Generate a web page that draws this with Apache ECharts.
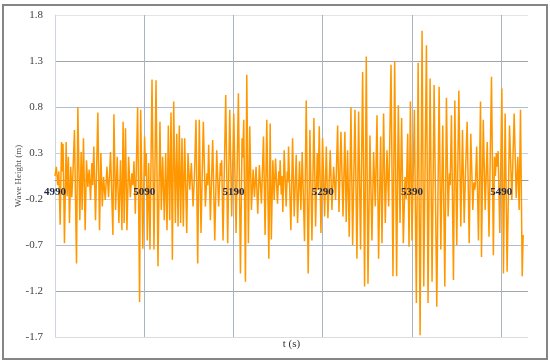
<!DOCTYPE html>
<html>
<head>
<meta charset="utf-8">
<script src="https://cdn.jsdelivr.net/npm/echarts@6/dist/echarts.min.js"></script>
<style>
  html, body { margin: 0; padding: 0; background: #fff; }
  #chart { width: 550px; height: 363px; }
</style>
</head>
<body>
<div id="chart"></div>
<script>
  // wave record, read at the turning points of the trace
  var times = [
    4990, 4991.5, 4993, 4994.3, 4995.8, 4997.3, 4998.3, 4999, 5000.6, 5002.5,
    5003.6, 5005, 5006.2, 5007.7, 5008.8, 5010, 5011.8, 5014.1, 5015.6, 5017.8,
    5019.3, 5020.4, 5021.9, 5023.8, 5025.3, 5026.8, 5028.3, 5029.8, 5031.3, 5032.3,
    5033.5, 5035.4, 5038, 5039.9, 5041.4, 5043, 5044.4, 5046.3, 5048.2, 5050,
    5052.2, 5054.9, 5056, 5057.9, 5059.7, 5061.6, 5063.4, 5065, 5066.3, 5067.5,
    5069, 5070.6, 5072.5, 5074.4, 5076.2, 5077.3, 5078.5, 5080, 5082.6, 5084.8,
    5086, 5088.4, 5090.4, 5091.5, 5092.3, 5093.4, 5095, 5096.4, 5098.7, 5100.9,
    5103.2, 5105.4, 5107.6, 5109.1, 5110.6, 5112.5, 5114, 5115.5, 5117, 5118.5,
    5120, 5121.5, 5123, 5124.9, 5126.4, 5127.9, 5129.3, 5130.8, 5132.3, 5133.8,
    5135.3, 5137.6, 5139, 5141, 5142.8, 5144.7, 5146.2, 5148, 5149.9, 5151.7,
    5153.6, 5156.2, 5158.5, 5160.3, 5161.2, 5162.2, 5164.1, 5166.7, 5169, 5171.2,
    5173.4, 5175.3, 5176.2, 5176.8, 5178.3, 5181.3, 5183.5, 5185.8, 5188, 5190.3,
    5192.9, 5195.5, 5197.8, 5199.6, 5200.4, 5201.5, 5203.4, 5204.9, 5206.7, 5208.2,
    5210.1, 5212, 5213.5, 5215.3, 5217.2, 5219, 5221.3, 5223.6, 5225.4, 5227.3,
    5229.6, 5231.1, 5232.4, 5234.1, 5235.6, 5237.1, 5239.3, 5240.8, 5241.5, 5242.3,
    5243.5, 5244.3, 5245.3, 5246.8, 5249, 5250.3, 5250.9, 5251.7, 5254.3, 5256.2,
    5258, 5260.3, 5261.8, 5264, 5265.5, 5267, 5269.6, 5271.5, 5273.7, 5275.6,
    5277.9, 5280.1, 5282, 5283.9, 5284.9, 5286.1, 5288, 5289.8, 5292.1, 5294,
    5295.8, 5298.4, 5300.3, 5302.2, 5304.4, 5306.7, 5308.2, 5310.4, 5312.7, 5314.8,
    5316.3, 5317.8, 5319.7, 5321.6, 5323.5, 5326.1, 5328.3, 5330.2, 5332.4, 5334.7,
    5336.9, 5338.8, 5340.7, 5342.9, 5345.1, 5347, 5348.9, 5350.8, 5352.6, 5354.9,
    5356.4, 5358.2, 5360.1, 5362, 5363.9, 5366.5, 5368.7, 5370.6, 5372.8, 5374.7,
    5376.6, 5378.4, 5380.3, 5382.2, 5383.5, 5385.2, 5386.7, 5388.2, 5390, 5392.7,
    5394.9, 5396.9, 5399.1, 5401.3, 5403.2, 5406.2, 5408, 5410.3, 5412.5, 5414.8,
    5417.8, 5420.4, 5422.3, 5424.5, 5426.8, 5428.6, 5430.5, 5432, 5432.8, 5434.2,
    5436.5, 5438, 5440.2, 5442.5, 5444.7, 5446.6, 5448.5, 5450, 5451.8, 5454.1,
    5455.9, 5458.2, 5459.3, 5460.2, 5461, 5462.5, 5464.5, 5466.8, 5467.9, 5469.9,
    5472, 5474.3, 5476.3, 5479.1, 5481.2, 5482.4, 5483.5, 5484.5, 5485.5, 5486.5,
    5488.4, 5490.7, 5492.5, 5494.4, 5496.6, 5499.3, 5501.9, 5504.5, 5506.8, 5508.6,
    5510.1, 5511.6, 5513.5, 5514.6
  ];
  var heights = [
    0.05, 0.15, -0.05, 0.10, -0.48, 0.42, 0.10, 0.40, -0.68, 0.42,
    -0.17, 0.26, -0.46, 0.15, -0.18, 0.05, 0.55, -0.90, 0.80, -0.43,
    0.31, -0.32, 0.46, -0.54, 0.22, -0.07, 0.12, -0.21, 0.19, -0.05,
    0.37, -0.43, 0.74, -0.54, 0.30, -0.28, 0.04, -0.21, 0.15, -0.18,
    0.31, -0.59, 0.72, -0.32, 0.26, -0.46, 0.22, -0.54, 0.64, -0.46,
    0.57, -0.54, 0.26, -0.18, 0.08, -0.05, 0.21, -0.36, 0.80, -1.32,
    0.77, -0.74, 0.48, 0.05, 0.30, -0.65, 0.19, -0.75, 1.10, -0.75,
    1.09, -0.93, 0.64, -0.32, 0.26, -0.43, 0.30, -0.54, 0.60, -0.43,
    0.74, -0.86, 0.86, -0.46, 0.51, -0.50, 0.60, -0.46, 0.46, -0.50,
    0.46, -0.57, 0.30, -0.10, 0.19, -0.28, 0.04, 0.66, -0.90, 0.66,
    -0.57, 0.64, -0.28, 0.08, -0.05, 0.39, -0.43, 0.44, -0.65, 0.33,
    -0.28, 0.19, 0.05, 0.22, -0.65, 0.93, -0.68, 0.77, -0.39, 0.73,
    -0.57, 0.95, -1.01, 0.46, 0.25, 0.66, -1.10, 1.15, -0.68, 0.59,
    -0.32, 0.12, -0.18, 0.15, -0.36, 0.17, -0.25, 0.48, -0.59, 0.66,
    -0.85, 0.62, -0.64, 0.22, -0.21, 0.24, -0.25, 0.10, -0.05, 0.22,
    -0.15, 0.05, -0.34, 0.33, -0.28, 0.10, -0.02, 0.37, -0.54, 0.46,
    -0.39, 0.28, -0.46, 0.21, -0.32, 0.31, -0.66, 0.87, -1.01, 0.55,
    -0.65, 0.68, -0.50, 0.30, -0.10, 0.59, -0.57, 0.46, -0.39, 0.37,
    -0.41, 0.33, -0.32, 0.15, -0.21, 0.60, -0.34, 0.53, -0.39, 0.53,
    -0.45, 0.33, -0.61, 0.80, -0.70, 0.77, -0.85, 0.75, -0.75, 1.18,
    -1.15, 1.35, -1.12, 0.49, -0.65, 0.31, -0.28, 0.71, -0.85, 0.48,
    -0.68, 0.73, -0.46, 0.33, -0.28, 1.26, -1.04, 1.30, -1.04, 0.82,
    -0.46, 0.68, -0.68, 0.04, -0.20, 0.51, -0.72, 0.86, -0.65, 0.77,
    -1.33, 1.28, -1.68, 1.63, -1.15, 1.47, -1.33, 1.11, -1.10, 1.04,
    -1.37, 1.02, -0.75, 0.60, -1.15, 0.90, -0.39, 0.08, -0.05, 0.71,
    -1.08, 0.87, -0.70, 0.98, -0.50, 0.55, -0.46, 0.10, 0.64, -0.68,
    0.51, -0.32, -0.02, -0.10, -0.05, 0.37, -0.65, 0.86, -0.83, 0.66,
    -0.32, 0.42, -0.61, 1.13, -0.81, 0.26, 0.05, 0.30, 0.15, 0.32,
    -0.57, 1.00, -1.01, 0.73, -0.99, 0.60, -0.21, 0.73, -0.19, 0.26,
    -0.32, 0.77, -1.04, -0.59
  ];
  var xTicks = [4990, 5090, 5190, 5290, 5390, 5490];
  var yTicks = [-1.7, -1.2, -0.7, -0.2, 0.3, 0.8, 1.3, 1.8];
  var xEnd = 5520;

  var chart = echarts.init(document.getElementById('chart'));
  var serif = '"Liberation Serif", "DejaVu Serif", serif';

  var seriesData = times.map(function (t, i) { return [t, heights[i]]; });
  var xSpan = xEnd - xTicks[0];
  var yMin = yTicks[0], yMax = yTicks[yTicks.length - 1];
  var ySpan = yMax - yMin;

  var gridTop = 15, gridBottom = 26;
  var plotH = 363 - gridTop - gridBottom;
  // lift the x axis from the bottom edge up to the zero line
  var zeroOffset = -plotH * (0 - yMin) / ySpan;

  var option = {
    animation: false,
    backgroundColor: '#fff',
    grid: { left: 55, right: 22, top: gridTop, bottom: gridBottom, containLabel: false, outerBoundsMode: 'none' },
    graphic: [{
      type: 'rect',
      shape: { x: 3, y: 5, width: 544, height: 354 },
      style: { fill: 'none', stroke: '#858585', lineWidth: 2 },
      silent: true
    }],
    xAxis: [
      { // grid lines, zero line, name
        type: 'value', position: 'bottom', offset: zeroOffset,
        min: 0, max: xSpan, interval: 100,
        axisLine: { onZero: false, lineStyle: { color: '#9a9a9a', width: 1 } },
        axisTick: { show: false },
        axisLabel: { show: false },
        splitLine: {
          lineStyle: {
            color: ['#d6dce4', '#a9b3c2', '#a9b3c2', '#a9b3c2', '#a9b3c2', '#a9b3c2', 'rgba(0,0,0,0)'],
            width: 1
          }
        },
        name: 't (s)', nameLocation: 'middle', nameGap: 158, nameMoveOverlap: false,
        nameTextStyle: { fontFamily: serif, fontSize: 11, color: '#333' }
      },
      { // data axis
        type: 'value', show: false, position: 'bottom',
        min: xTicks[0], max: xEnd,
        axisLine: { onZero: false }
      },
      { // tick labels drawn over the trace
        type: 'value', position: 'bottom', offset: zeroOffset, z: 10,
        min: 0, max: xSpan, interval: 100,
        axisLine: { show: false, onZero: false },
        axisTick: { show: false },
        splitLine: { show: false },
        axisLabel: {
          margin: 6, showMaxLabel: false,
          fontFamily: serif, fontSize: 11, fontWeight: 'bold', color: '#1d2845',
          formatter: function (v, i) { return xTicks[i] !== undefined ? String(xTicks[i]) : ''; }
        }
      }
    ],
    yAxis: [
      {
        type: 'value', position: 'left',
        min: 0, max: ySpan, interval: 0.5,
        axisLine: { show: true, onZero: false, lineStyle: { color: '#d0d6de' } },
        axisTick: { show: false },
        splitLine: {
          lineStyle: {
            color: ['#dcdcdc', '#a2a6ad', '#aebdd2', '#c3d6ea', '#bcd3ea', '#aebdd2', '#a2a6ad', '#e4e4e4'],
            width: 1
          }
        },
        axisLabel: {
          margin: 12, fontFamily: serif, fontSize: 11, color: '#404040',
          formatter: function (v, i) { return yTicks[i].toFixed(1); }
        },
        name: 'Wave Height (m)', nameLocation: 'middle', nameGap: 32, nameMoveOverlap: false,
        nameTextStyle: { fontFamily: serif, fontSize: 9, color: '#505050' }
      },
      {
        type: 'value', show: false, position: 'left',
        min: yMin, max: yMax,
        axisLine: { onZero: false }
      }
    ],
    series: [{
      type: 'line',
      xAxisIndex: 1,
      yAxisIndex: 1,
      data: seriesData,
      symbol: 'none',
      lineStyle: { color: '#ff9800', width: 1.5 },
      z: 2
    }]
  };
  chart.setOption(option);
</script>
</body>
</html>
